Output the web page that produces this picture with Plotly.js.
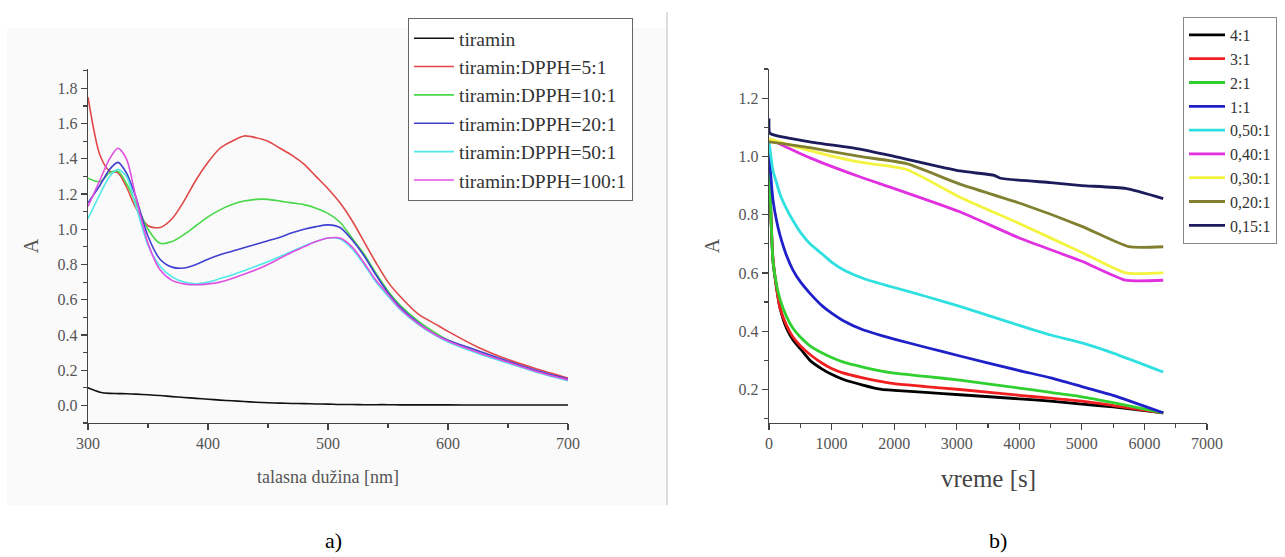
<!DOCTYPE html>
<html>
<head>
<meta charset="utf-8">
<script src="https://cdn.plot.ly/plotly-3.0.1.min.js"></script>
<style>html,body{margin:0;padding:0;background:#fff;}#chart{width:1285px;height:557px;}</style>
</head>
<body>
<div id="chart"></div>
<script>
// ---------- Panel a): UV-Vis spectra ----------
const wavelength = [300,310,318,325,332,340,350,360,370,380,390,400,410,420,430,440,450,460,470,480,490,500,510,520,530,540,550,560,575,590,600,625,650,675,700];
const tiramin     = [0.10,0.075,0.068,0.067,0.066,0.064,0.060,0.056,0.050,0.045,0.040,0.035,0.030,0.026,0.022,0.018,0.015,0.013,0.011,0.010,0.008,0.007,0.005,0.005,0.004,0.004,0.004,0.003,0.003,0.003,0.003,0.002,0.002,0.002,0.002];
const dpph_5_1    = [1.75,1.42,1.33,1.32,1.24,1.12,1.02,1.01,1.06,1.16,1.28,1.38,1.46,1.50,1.53,1.52,1.50,1.46,1.42,1.37,1.30,1.23,1.15,1.05,0.93,0.81,0.70,0.62,0.52,0.46,0.42,0.33,0.26,0.205,0.155];
const dpph_10_1   = [1.29,1.27,1.32,1.33,1.26,1.15,1.00,0.92,0.93,0.97,1.02,1.07,1.11,1.14,1.16,1.17,1.17,1.16,1.15,1.14,1.12,1.09,1.04,0.95,0.86,0.75,0.65,0.57,0.48,0.41,0.37,0.30,0.245,0.19,0.145];
const dpph_20_1   = [1.15,1.25,1.34,1.38,1.32,1.18,0.96,0.83,0.785,0.78,0.80,0.83,0.855,0.875,0.895,0.915,0.935,0.955,0.98,1.00,1.015,1.025,1.01,0.94,0.85,0.74,0.64,0.56,0.47,0.40,0.37,0.31,0.25,0.195,0.15];
const dpph_50_1   = [1.06,1.20,1.30,1.34,1.30,1.13,0.91,0.79,0.73,0.70,0.69,0.70,0.72,0.74,0.765,0.79,0.815,0.845,0.875,0.905,0.93,0.95,0.945,0.89,0.80,0.70,0.62,0.545,0.46,0.395,0.36,0.295,0.24,0.185,0.14];
const dpph_100_1  = [1.13,1.28,1.40,1.46,1.40,1.18,0.92,0.77,0.71,0.69,0.685,0.69,0.70,0.72,0.745,0.77,0.80,0.835,0.87,0.90,0.93,0.95,0.95,0.90,0.81,0.71,0.63,0.55,0.465,0.40,0.365,0.30,0.245,0.19,0.145];
const namesA  = ["tiramin","tiramin:DPPH=5:1","tiramin:DPPH=10:1","tiramin:DPPH=20:1","tiramin:DPPH=50:1","tiramin:DPPH=100:1"];
const colorsA = ["#111111","#e04848","#48d848","#4040d0","#50e8e8","#e050e0"];

// ---------- Panel b): kinetics ----------
const timeFast = [0,30,64,120,176,280,383,500,655,850,1000,1180,1500,1800,2000,2500,3050,4000,4500,5000,5500,6300];
const r4_1   = [1.02,0.80,0.64,0.55,0.48,0.41,0.37,0.34,0.30,0.27,0.252,0.235,0.215,0.20,0.197,0.19,0.182,0.168,0.16,0.15,0.14,0.12];
const r3_1   = [1.02,0.80,0.65,0.55,0.48,0.42,0.38,0.35,0.32,0.29,0.272,0.257,0.24,0.227,0.22,0.21,0.20,0.18,0.17,0.16,0.145,0.12];
const r2_1   = [1.02,0.80,0.64,0.56,0.51,0.45,0.41,0.38,0.35,0.325,0.31,0.295,0.277,0.263,0.256,0.245,0.232,0.205,0.19,0.175,0.155,0.12];
const r1_1   = [1.03,0.93,0.85,0.78,0.73,0.66,0.61,0.57,0.53,0.487,0.462,0.437,0.405,0.385,0.373,0.345,0.315,0.265,0.24,0.21,0.18,0.12];
const r050_1 = [1.05,1.00,0.95,0.91,0.87,0.82,0.78,0.74,0.70,0.665,0.637,0.612,0.582,0.562,0.55,0.52,0.485,0.42,0.387,0.36,0.325,0.26];
const time040 = [0,200,655,1450,2000,3050,4000,5000,5700,6300];
const r040_1  = [1.06,1.04,0.995,0.93,0.89,0.81,0.72,0.64,0.575,0.575];
const time030 = [0,655,1450,2200,3050,4000,5000,5700,6300];
const r030_1  = [1.06,1.02,0.98,0.955,0.86,0.77,0.67,0.60,0.60];
const time020 = [0,655,1450,2200,3050,4000,5000,5750,6300];
const r020_1  = [1.05,1.03,1.00,0.975,0.905,0.84,0.76,0.69,0.69];
const time015 = [0,10,60,655,1450,2000,3050,3600,3700,4500,5000,5700,6300];
const r015_1  = [1.13,1.08,1.075,1.05,1.025,1.00,0.95,0.935,0.925,0.91,0.90,0.89,0.855];
const namesB  = ["4:1","3:1","2:1","1:1","0,50:1","0,40:1","0,30:1","0,20:1","0,15:1"];
const colorsB = ["#000000","#f02020","#30d030","#2020c8","#30e0e0","#e030e0","#f4f440","#808030","#1c1c5c"];

const seriesA = [tiramin,dpph_5_1,dpph_10_1,dpph_20_1,dpph_50_1,dpph_100_1];
const xB = [timeFast,timeFast,timeFast,timeFast,timeFast,time040,time030,time020,time015];
const yB = [r4_1,r3_1,r2_1,r1_1,r050_1,r040_1,r030_1,r020_1,r015_1];

const traces = [];
seriesA.forEach((ys,i)=>{
  traces.push({x:wavelength,y:ys,type:'scatter',mode:'lines',name:namesA[i],
    line:{color:colorsA[i],width:1.6,shape:'spline',smoothing:0.8},xaxis:'x',yaxis:'y',legend:'legend'});
});
yB.forEach((ys,i)=>{
  traces.push({x:xB[i],y:ys,type:'scatter',mode:'lines',name:namesB[i],
    line:{color:colorsB[i],width:2.8,shape:'spline',smoothing:0.5},xaxis:'x2',yaxis:'y2',legend:'legend2'});
});

const serif = "'Liberation Serif', 'Times New Roman', serif";
const tickFont = {family:serif,size:16,color:'#555'};
const axBase = {showgrid:false,zeroline:false,showline:true,linecolor:'#444',linewidth:1.2,automargin:false,
  ticks:'outside',ticklen:6,tickcolor:'#444',tickwidth:1.2,tickfont:tickFont,mirror:false};

const ann = (text,x,y,size,color)=>({text:text,xref:'paper',yref:'paper',x:x/1285,y:1-y/557,
  xanchor:'center',yanchor:'middle',showarrow:false,font:{family:serif,size:size,color:color}});

const layout = {
  width:1285,height:557,margin:{l:0,r:0,t:0,b:0,autoexpand:false},
  paper_bgcolor:'#ffffff',plot_bgcolor:'rgba(0,0,0,0)',
  font:{family:serif},
  xaxis:Object.assign({},axBase,{domain:[88/1285,568/1285],anchor:'y',range:[300,700],dtick:100,tick0:300,
    minor:{dtick:50,ticklen:4,tickcolor:'#444',ticks:'outside'}}),
  yaxis:Object.assign({},axBase,{domain:[134/557,488/557],anchor:'x',range:[-0.1,1.91],dtick:0.2,tick0:0,tickformat:'.1f',
    minor:{dtick:0.1,ticklen:4,tickcolor:'#444',ticks:'outside'},
    title:{text:'A',font:{family:serif,size:20,color:'#555'}}}),
  xaxis2:Object.assign({},axBase,{domain:[769/1285,1207/1285],anchor:'y2',range:[0,7000],dtick:1000,tick0:0,
    minor:{dtick:500,ticklen:4,tickcolor:'#444',ticks:'outside'}}),
  yaxis2:Object.assign({},axBase,{domain:[134/557,488/557],anchor:'x2',range:[0.085,1.3],dtick:0.2,tick0:0,tickformat:'.1f',
    minor:{dtick:0.1,ticklen:4,tickcolor:'#444',ticks:'outside'},
    title:{text:'A',font:{family:serif,size:20,color:'#555'}}}),
  legend:{x:408/1285,y:1-18/557,xanchor:'left',yanchor:'top',bgcolor:'#ffffff',bordercolor:'#666',borderwidth:1,
    font:{family:serif,size:19.5,color:'#333'},tracegroupgap:0,itemwidth:40},
  legend2:{x:1183/1285,y:1-17/557,xanchor:'left',yanchor:'top',bgcolor:'#ffffff',bordercolor:'#888',borderwidth:1,
    font:{family:serif,size:16,color:'#333'},tracegroupgap:0,itemwidth:36},
  shapes:[
    {type:'rect',xref:'paper',yref:'paper',x0:7/1285,x1:666/1285,y0:1-505/557,y1:1-28/557,fillcolor:'#fafafa',line:{width:0},layer:'below'},
    {type:'line',xref:'paper',yref:'paper',x0:667/1285,x1:667/1285,y0:1-12/557,y1:1-505/557,line:{color:'#bbbbbb',width:1}}
  ],
  annotations:[
    ann('talasna dužina [nm]',328,477,18,'#555'),
    ann('vreme [s]',988,478,25,'#444'),
    ann('a)',333,540,22,'#000'),
    ann('b)',998,540,22,'#000')
  ],
  showlegend:true
};

Plotly.newPlot('chart',traces,layout,{staticPlot:true,displayModeBar:false});
</script>
</body>
</html>
